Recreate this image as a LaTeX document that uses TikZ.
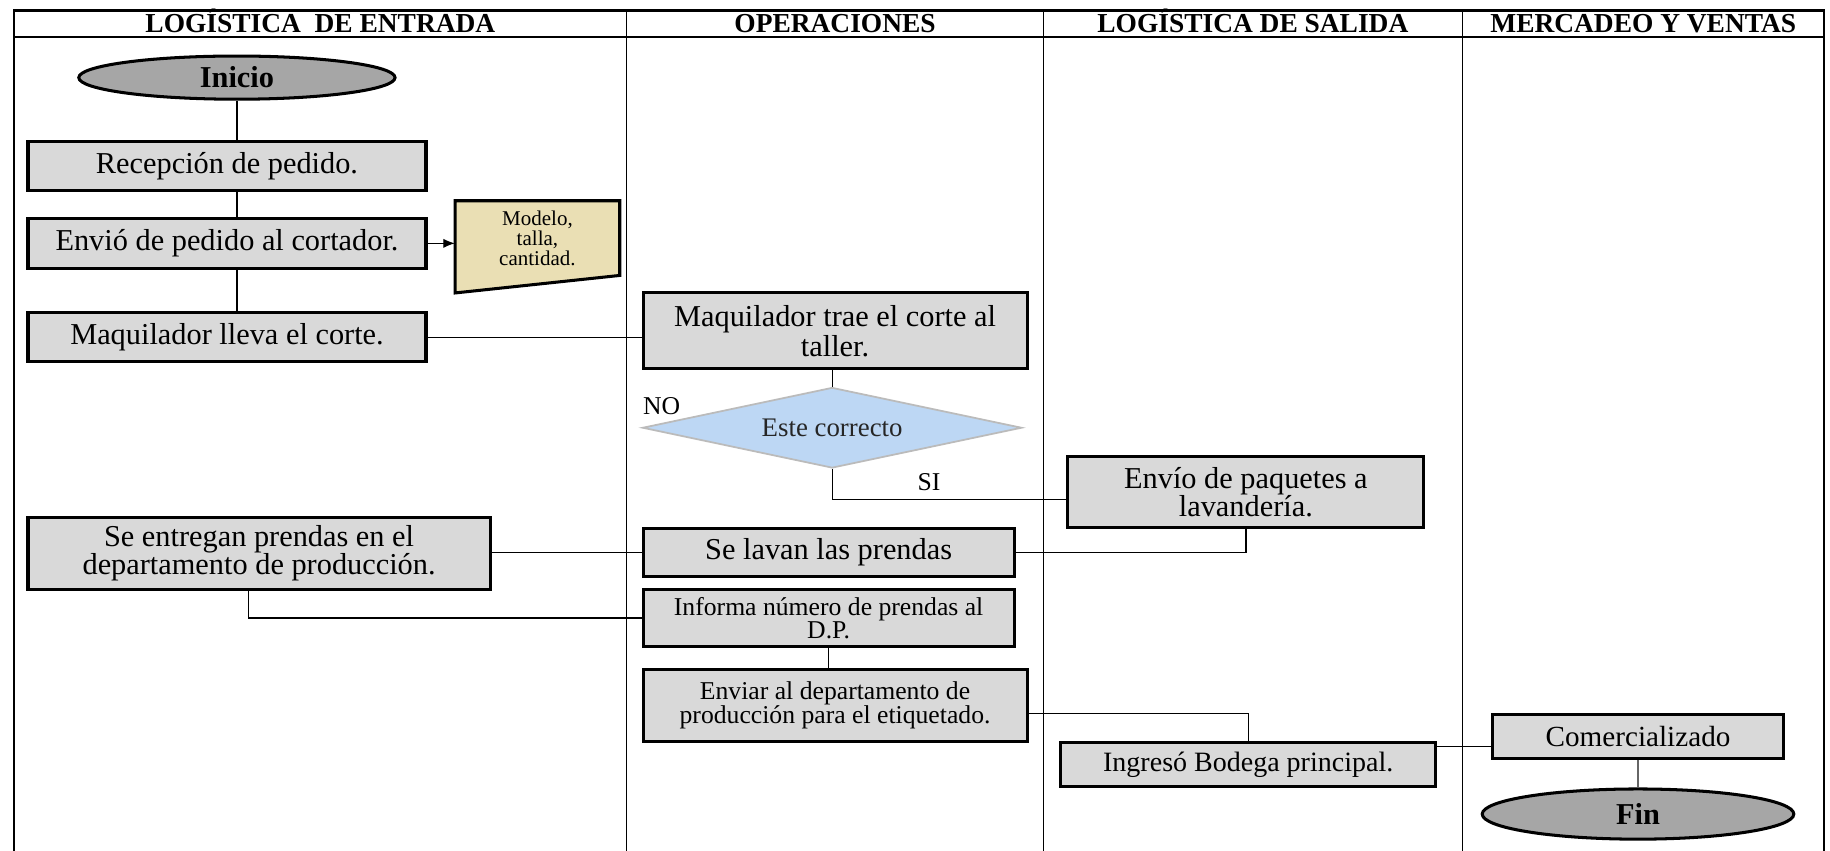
\documentclass[tikz,border=0pt]{standalone}
\usepackage{fontspec}
\setmainfont{Liberation Serif}
\usetikzlibrary{shapes.geometric,calc,arrows.meta}
\definecolor{boxgray}{HTML}{D9D9D9}
\definecolor{ellgray}{HTML}{A6A6A6}
\definecolor{diablue}{HTML}{BDD7F4}
\definecolor{diaedge}{HTML}{BBBBBB}
\definecolor{docbeige}{HTML}{EADFB4}
\begin{document}
\begin{tikzpicture}[x=1pt,y=-1pt,
  box/.style={draw,fill=boxgray,line width=2.6pt,inner sep=0pt,align=center,font=\fontsize{26}{26}\selectfont},
  ell/.style={ellipse,draw,fill=ellgray,line width=2.6pt,inner sep=0pt,font=\bfseries\fontsize{26}{26}\selectfont},
  conn/.style={line width=1.1pt},
  hdr/.style={anchor=base,inner sep=0pt,font=\bfseries\fontsize{23.5}{23.5}\selectfont},
  lbl/.style={font=\fontsize{22}{22}\selectfont}]
\useasboundingbox (0,0) rectangle (1568,729);
\fill[white] (0,0) rectangle (1568,729);
% table
\draw[line width=2pt] (12,729) -- (12,9) -- (1563,9) -- (1563,729);
\draw[line width=1.5pt] (12,32) -- (1563,32);
\draw[line width=1.2pt] (537,9) -- (537,729) (894,9) -- (894,729) (1253,9) -- (1253,729);
\node[hdr] (h1) at (274.5,27.5) {LOGÍSTICA\ \ DE ENTRADA};
\node[hdr] (h2) at (715.5,27.5) {OPERACIONES};
\node[hdr] (h3) at (1073.5,27.5) {LOGÍSTICA DE SALIDA};
\node[hdr] (h4) at (1408,27.5) {MERCADEO Y VENTAS};
% nodes
\node[ell,minimum width=271pt,minimum height=37pt] (ini) at (203,66.5) {Inicio};
\node[box,minimum width=341pt,minimum height=42pt] (rec) at (194.5,142) {Recepción de pedido.};
\node[box,minimum width=341pt,minimum height=43pt] (env) at (194.5,208.5) {Envió de pedido al cortador.};
\node[box,minimum width=341pt,minimum height=42pt] (mll) at (194.5,289) {Maquilador lleva el corte.};
\filldraw[fill=docbeige,line width=2.6pt] (390,172) -- (531,172) -- (531,236) -- (390,251) -- cycle;
\node[font=\fontsize{18}{17}\selectfont,align=center,minimum width=141pt,minimum height=60pt,inner sep=0pt] (doc) at (460.5,204) {Modelo,\\talla,\\cantidad.};
\node[box,minimum width=329pt,minimum height=65pt] (mtr) at (715.5,283.5) {Maquilador trae el corte al\\taller.};
\node[diamond,draw=diaedge,fill=diablue,line width=1.5pt,aspect=4.7,minimum width=325pt,minimum height=69pt,inner sep=0pt,font=\fontsize{23}{23}\selectfont,text=black!85] (dia) at (713,366.5) {Este correcto};
\node[box,minimum width=305pt,minimum height=61pt,font=\fontsize{26}{24}\selectfont] (paq) at (1067.5,421.5) {Envío de paquetes a\\lavandería.};
\node[box,minimum width=396pt,minimum height=62pt,font=\fontsize{26}{24}\selectfont] (ent) at (222,474) {Se entregan prendas en el\\departamento de producción.};
\node[box,minimum width=318pt,minimum height=41pt] (lav) at (710,473.5) {Se lavan las prendas};
\node[box,minimum width=318pt,minimum height=49pt,font=\fontsize{22}{20}\selectfont] (inf) at (710,529.5) {Informa número de prendas al\\D.P.};
\node[box,minimum width=329pt,minimum height=61pt,font=\fontsize{22}{21}\selectfont] (etq) at (715.5,604.5) {Enviar al departamento de\\producción para el etiquetado.};
\node[box,minimum width=321pt,minimum height=38pt,font=\fontsize{24}{24}\selectfont] (ing) at (1069.5,655) {Ingresó Bodega principal.};
\node[box,minimum width=249pt,minimum height=38pt,font=\fontsize{25}{25}\selectfont] (com) at (1403.5,631) {Comercializado};
\node[ell,minimum width=267pt,minimum height=43pt] (fin) at (1403.5,697.5) {Fin};
\node[lbl] (no) at (567,348) {NO};
\node[lbl] (si) at (796,413) {SI};
% connectors
\draw[conn] (ini.south) -- (ini.south |- rec.north);
\draw[conn] (ini.south |- rec.south) -- (ini.south |- env.north);
\draw[conn] (ini.south |- env.south) -- (ini.south |- mll.north);
\draw[conn,-{Latex[length=10pt,width=8pt]}] (env.east) -- (env.east -| doc.west);
\draw[conn] (mll.east) -- (mll.east -| mtr.west);
\draw[conn] (dia.north) -- (dia.north |- mtr.south);
\coordinate (j1) at ($(paq.west)+(0,6.5)$);
\draw[conn] (dia.south) |- (j1);
\draw[conn] (paq.south) |- (lav.east);
\draw[conn] (lav.west) -- (lav.west -| ent.east);
\coordinate (j2) at ($(ent.south)+(-9,0)$);
\draw[conn] (j2) |- (inf.west);
\draw[conn] (inf.south) -- (inf.south |- etq.north);
\coordinate (j3) at ($(etq.east)+(0,7)$);
\draw[conn] (j3) -| (ing.north);
\coordinate (j4) at ($(ing.north east)+(0,5)$);
\draw[conn] (j4) -- (j4 -| com.west);
\draw[conn,draw=black!60] (com.south) -- (fin.north);
\end{tikzpicture}
\end{document}
